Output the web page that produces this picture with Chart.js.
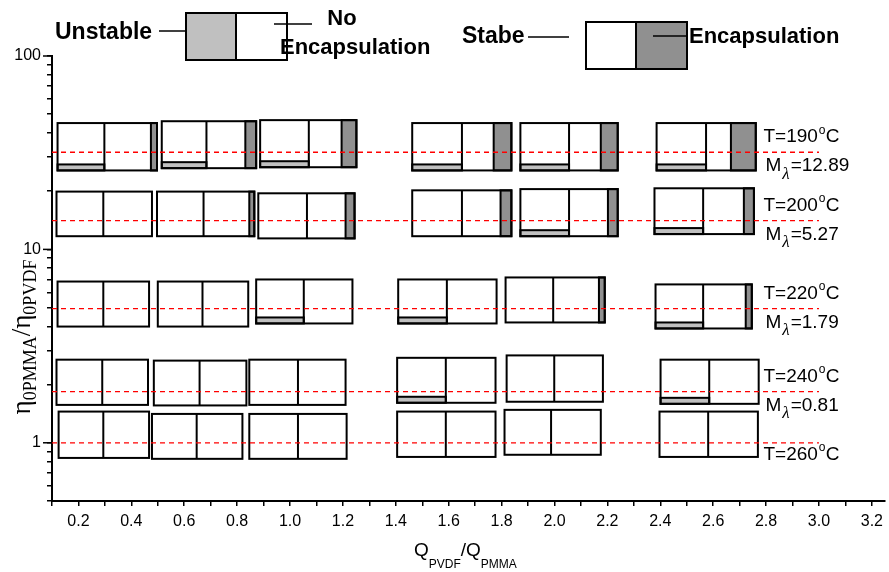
<!DOCTYPE html>
<html>
<head>
<meta charset="utf-8">
<script src="https://cdn.jsdelivr.net/npm/chart.js@4.4.0/dist/chart.umd.min.js"></script>
<style>
  body { margin: 0; background: #fff; }
</style>
</head>
<body>
<canvas id="chart" width="889" height="572"></canvas>
<script>
// rows: temperature, viscosity ratio of the dashed line, M lambda
const rowTemps = ['190', '200', '220', '240', '260'];
const rowEta = [31.8, 14.1, 4.94, 1.84, 1.0];
const rowMlambda = ['12.89', '5.27', '1.79', '0.81', ''];
const dashFrom = 0.1;
const dashTo = 3.0;

// boxes: flow ratio edges (left, middle divider, right) per row
const boxLeft = [
  [0.121, 0.515, 0.887, 1.462, 1.871, 2.386],
  [0.117, 0.497, 0.880, 1.462, 1.871, 2.378],
  [0.121, 0.500, 0.872, 1.409, 1.815, 2.382],
  [0.117, 0.485, 0.846, 1.405, 1.819, 2.401],
  [0.125, 0.478, 0.846, 1.405, 1.811, 2.397]
];
const boxSplit = [
  [0.298, 0.684, 1.071, 1.650, 2.055, 2.573],
  [0.294, 0.673, 1.064, 1.650, 2.055, 2.562],
  [0.294, 0.669, 1.052, 1.593, 1.995, 2.562],
  [0.290, 0.658, 1.030, 1.589, 1.999, 2.585],
  [0.294, 0.647, 1.030, 1.589, 1.987, 2.581]
];
const boxRight = [
  [0.497, 0.872, 1.251, 1.837, 2.239, 2.761],
  [0.478, 0.865, 1.244, 1.837, 2.239, 2.754],
  [0.467, 0.842, 1.236, 1.781, 2.190, 2.746],
  [0.463, 0.835, 1.210, 1.777, 2.183, 2.772],
  [0.467, 0.820, 1.214, 1.777, 2.175, 2.769]
];
// viscosity ratio at top / bottom of each box
const boxTop = [
  [45.0, 46.0, 46.6, 45.0, 45.0, 45.0],
  [19.9, 19.9, 19.5, 20.2, 20.5, 20.7],
  [6.82, 6.82, 6.99, 6.99, 7.16, 6.59],
  [2.69, 2.66, 2.69, 2.75, 2.83, 2.69],
  [1.45, 1.41, 1.41, 1.45, 1.48, 1.45]
];
const boxBottom = [
  [25.6, 26.3, 26.6, 25.6, 25.6, 25.6],
  [11.7, 11.7, 11.4, 11.7, 11.7, 12.0],
  [3.99, 3.99, 4.14, 4.14, 4.19, 3.90],
  [1.57, 1.56, 1.57, 1.61, 1.63, 1.59],
  [0.835, 0.826, 0.826, 0.845, 0.867, 0.845]
];
// start of encapsulation part (null = none)
const encapFrom = [
  [0.474, 0.831, 1.195, 1.770, 2.175, 2.667],
  [null, 0.846, 1.210, 1.796, 2.202, 2.716],
  [null, null, null, null, 2.168, 2.723],
  [null, null, null, null, null, null],
  [null, null, null, null, null, null]
];
// 1 = unstable
const unstable = [
  [1, 1, 1, 1, 1, 1],
  [0, 0, 0, 0, 1, 1],
  [0, 0, 1, 1, 0, 1],
  [0, 0, 0, 1, 0, 1],
  [0, 0, 0, 0, 0, 0]
];

const xTicks = [0.1, 0.2, 0.3, 0.4, 0.5, 0.6, 0.7, 0.8, 0.9, 1.0, 1.1, 1.2, 1.3, 1.4, 1.5, 1.6,
  1.7, 1.8, 1.9, 2.0, 2.1, 2.2, 2.3, 2.4, 2.5, 2.6, 2.7, 2.8, 2.9, 3.0, 3.1, 3.2];
const xTickLabels = ['0.2', '0.4', '0.6', '0.8', '1.0', '1.2', '1.4', '1.6', '1.8', '2.0',
  '2.2', '2.4', '2.6', '2.8', '3.0', '3.2'];
const yTicks = [0.5, 0.6, 0.7, 0.8, 0.9, 1, 2, 3, 4, 5, 6, 7, 8, 9, 10, 20, 30, 40, 50, 60, 70, 80, 90, 100];
const yTickLabels = ['1', '10', '100'];

const SANS = '"Liberation Sans", Arial, sans-serif';
const SERIF = '"Liberation Serif", "Times New Roman", serif';
const GRAY_LIGHT = '#c0c0c0';
const GRAY_DARK = '#909090';

function rect(ctx, x, y, w, h, fill) {
  ctx.fillStyle = fill;
  ctx.fillRect(x, y, w, h);
  ctx.strokeRect(x, y, w, h);
}
function vline(ctx, x, y0, y1) {
  ctx.beginPath(); ctx.moveTo(x, y0); ctx.lineTo(x, y1); ctx.stroke();
}
function hline(ctx, x0, x1, y) {
  ctx.beginPath(); ctx.moveTo(x0, y); ctx.lineTo(x1, y); ctx.stroke();
}

// the boxes, drawn under the dashed lines
const boxPlugin = {
  id: 'boxes',
  beforeDatasetsDraw(chart) {
    const { ctx, scales: { x, y } } = chart;
    ctx.save();
    ctx.lineWidth = 2;
    ctx.strokeStyle = '#000';
    rowEta.forEach((eta, r) => {
      boxLeft[r].forEach((lv, b) => {
        const x0 = x.getPixelForValue(lv);
        const xm = x.getPixelForValue(boxSplit[r][b]);
        const x1 = x.getPixelForValue(boxRight[r][b]);
        const yt = y.getPixelForValue(boxTop[r][b]);
        const yb = y.getPixelForValue(boxBottom[r][b]);
        ctx.fillStyle = '#fff';
        ctx.fillRect(x0, yt, x1 - x0, yb - yt);
        if (encapFrom[r][b] !== null) {
          const xe = x.getPixelForValue(encapFrom[r][b]);
          rect(ctx, xe, yt, x1 - xe, yb - yt, GRAY_DARK);
        }
        if (unstable[r][b]) {
          rect(ctx, x0, yb - 6, xm - x0, 6, GRAY_LIGHT);
        }
        ctx.strokeRect(x0, yt, x1 - x0, yb - yt);
        vline(ctx, xm, yt, yb);
      });
    });
    ctx.restore();
  }
};

// labels, legend, axis titles, long major ticks
const textPlugin = {
  id: 'texts',
  afterDraw(chart) {
    const { ctx, scales: { x, y }, chartArea } = chart;
    ctx.save();
    ctx.fillStyle = '#000';
    ctx.strokeStyle = '#000';
    ctx.textBaseline = 'middle';
    ctx.textAlign = 'left';

    // longer major ticks on y
    ctx.lineWidth = 1.5;
    [1, 10, 100].forEach(v => {
      const py = y.getPixelForValue(v);
      hline(ctx, chartArea.left - 9, chartArea.left, py);
    });

    // row labels
    const lx = x.getPixelForValue(2.79);
    rowEta.forEach((eta, r) => {
      const py = y.getPixelForValue(eta);
      const ty = r === rowEta.length - 1 ? py + 12 : py - 15;
      ctx.font = '19px ' + SANS;
      ctx.fillText('T=' + rowTemps[r], lx, ty);
      let w = ctx.measureText('T=' + rowTemps[r]).width;
      ctx.font = '12px ' + SANS;
      ctx.fillText('o', lx + w + 1, ty - 7);
      ctx.font = '19px ' + SANS;
      ctx.fillText('C', lx + w + 8, ty);
      if (rowMlambda[r]) {
        const my = py + 14;
        ctx.fillText('M', lx + 2, my);
        const mw = ctx.measureText('M').width;
        ctx.font = 'italic 17px ' + SERIF;
        ctx.fillText('\u03bb', lx + 3 + mw, my + 8);
        const lw = ctx.measureText('\u03bb').width;
        ctx.font = '19px ' + SANS;
        ctx.fillText('=' + rowMlambda[r], lx + 4 + mw + lw, my);
      }
    });

    // legend
    ctx.font = 'bold 23px ' + SANS;
    ctx.fillText('Unstable', 55, 33);
    ctx.lineWidth = 1.5;
    hline(ctx, 159, 186, 31);
    ctx.lineWidth = 2;
    rect(ctx, 186, 13, 50, 47, GRAY_LIGHT);
    rect(ctx, 236, 13, 51, 47, '#fff');
    ctx.lineWidth = 1.5;
    hline(ctx, 274, 312, 24);
    ctx.fillStyle = '#000';
    ctx.font = 'bold 22px ' + SANS;
    ctx.textAlign = 'center';
    ctx.fillText('No', 342, 19);
    ctx.textAlign = 'left';
    ctx.fillText('Encapsulation', 280, 48);

    ctx.font = 'bold 23px ' + SANS;
    ctx.fillText('Stabe', 462, 37);
    hline(ctx, 528, 569, 37);
    ctx.lineWidth = 2;
    rect(ctx, 586, 22, 50, 47, '#fff');
    rect(ctx, 636, 22, 51, 47, GRAY_DARK);
    ctx.lineWidth = 1.5;
    hline(ctx, 653, 687, 36);
    ctx.fillStyle = '#000';
    ctx.font = 'bold 22px ' + SANS;
    ctx.fillText('Encapsulation', 689, 37);

    // x title
    ctx.textBaseline = 'alphabetic';
    let tx = 414;
    const parts = [['Q', 0], ['PVDF', 1], ['/Q', 0], ['PMMA', 1]];
    parts.forEach(([s, sub]) => {
      ctx.font = (sub ? '12px ' : '19px ') + SANS;
      ctx.fillText(s, tx, sub ? 568 : 556);
      tx += ctx.measureText(s).width;
    });

    // y title
    ctx.translate(30, 337);
    ctx.rotate(-Math.PI / 2);
    const yparts = [['\u03b7', 0], ['0PMMA', 1], ['/', 0], ['\u03b7', 0], ['0PVDF', 1]];
    let total = 0;
    yparts.forEach(([s, sub]) => {
      ctx.font = (sub ? '18px ' : '27px ') + SERIF;
      total += ctx.measureText(s).width;
    });
    let ty2 = -total / 2;
    yparts.forEach(([s, sub]) => {
      ctx.font = (sub ? '18px ' : '27px ') + SERIF;
      ctx.fillText(s, ty2, sub ? 6 : 0);
      ty2 += ctx.measureText(s).width;
    });
    ctx.restore();
  }
};

const datasets = rowEta.map(eta => ({
  data: [{ x: dashFrom, y: eta }, { x: dashTo, y: eta }],
  showLine: true,
  borderColor: 'rgb(255, 0, 0)',
  borderWidth: 1.3,
  borderDash: [5, 4],
  pointRadius: 0,
  fill: false
}));

const config = {
  type: 'scatter',
  data: { datasets: datasets },
  options: {
    responsive: false,
    animation: false,
    layout: { padding: { top: 56, right: 0, left: 0, bottom: 0 } },
    plugins: { legend: { display: false }, tooltip: { enabled: false } },
    scales: {
      x: {
        type: 'linear',
        min: 0.1,
        max: 3.25,
        afterBuildTicks: scale => { scale.ticks = xTicks.map(v => ({ value: v })); },
        afterFit: scale => { scale.height = 71; },
        ticks: {
          autoSkip: false,
          maxRotation: 0,
          padding: 6,
          color: '#000',
          font: { family: SANS, size: 16 },
          callback: function(value) {
            const s = value.toFixed(1);
            return xTickLabels.includes(s) ? s : '';
          }
        },
        grid: { drawOnChartArea: false, drawTicks: true, tickLength: 5, color: '#000', lineWidth: 1.5 },
        border: { display: true, color: '#000', width: 2 }
      },
      y: {
        type: 'logarithmic',
        min: 0.5,
        max: 100,
        afterBuildTicks: scale => { scale.ticks = yTicks.map(v => ({ value: v })); },
        afterFit: scale => { scale.width = 52; },
        ticks: {
          autoSkip: false,
          padding: 6,
          color: '#000',
          font: { family: SANS, size: 16 },
          callback: function(value) {
            const s = String(value);
            return yTickLabels.includes(s) ? s : '';
          }
        },
        grid: { drawOnChartArea: false, drawTicks: true, tickLength: 5, color: '#000', lineWidth: 1.5 },
        border: { display: true, color: '#000', width: 2 }
      }
    }
  },
  plugins: [boxPlugin, textPlugin]
};

const chart = new Chart(document.getElementById('chart'), config);
</script>
</body>
</html>
